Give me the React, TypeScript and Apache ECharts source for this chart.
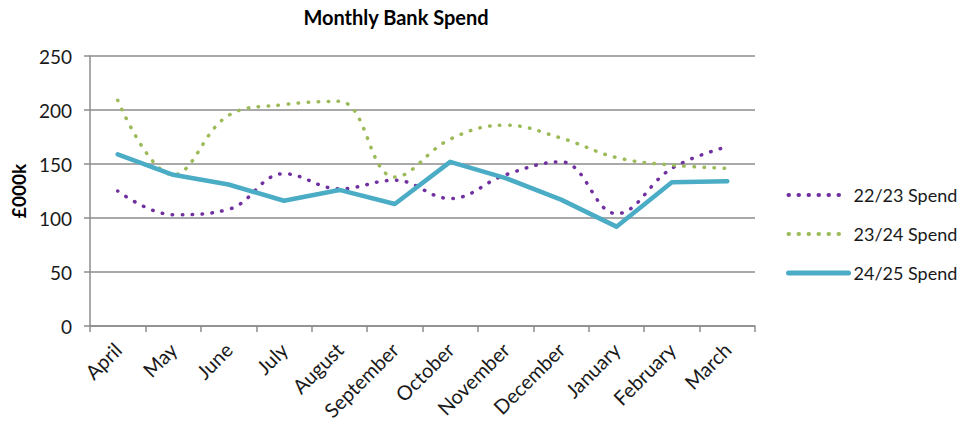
import React, { useEffect, useRef } from "react";
import * as echarts from "echarts";

const months = ["April", "May", "June", "July", "August", "September", "October", "November", "December", "January", "February", "March"];
const spend2223 = [125, 103, 108, 141, 127, 135, 118, 140, 152, 104, 146, 166];
const spend2324 = [209, 140, 195, 205, 208, 138, 173, 186, 174, 156, 149, 146];
const spend2425 = [159, 140, 131, 116, 126, 113, 152, 137, 117, 92, 133, 134];
const yTicks = [0, 50, 100, 150, 200, 250];

const FONT = "Lato, 'Open Sans', sans-serif";

export default function App() {
  const ref = useRef<HTMLDivElement>(null);
  useEffect(() => {
    if (!ref.current) return;
    const chart = echarts.init(ref.current, undefined, { renderer: "svg" });
    const dotted = (color: string, width: number) => ({
      color,
      width,
      type: [0.5, 9.5] as any,
      cap: "round" as const,
    });
    chart.setOption({
      animation: false,
      backgroundColor: "#ffffff",
      textStyle: { fontFamily: FONT },
      title: {
        text: "Monthly Bank Spend",
        left: 391,
        top: 2,
        textAlign: "center",
        textStyle: { fontFamily: FONT, fontSize: 20, fontWeight: "bold", color: "#000" },
      },
      grid: { left: 90, right: 209, top: 56, bottom: 99, containLabel: false },
      legend: {
        orient: "vertical",
        left: 781,
        top: 181,
        itemGap: 21,
        itemWidth: 60,
        itemHeight: 20,
        itemStyle: { opacity: 0 },
        textStyle: { fontFamily: FONT, fontSize: 18, color: "#1a1a1a" },
        data: [
          { name: "22/23 Spend", lineStyle: dotted("#7030A0", 4) },
          { name: "23/24 Spend", lineStyle: dotted("#9BBB59", 4) },
          { name: "24/25 Spend", lineStyle: { color: "#4BACC6", width: 5, cap: "round" } },
        ],
      },
      xAxis: {
        type: "category",
        data: months,
        boundaryGap: true,
        axisLine: { lineStyle: { color: "#8c8c8c", width: 1.5 } },
        axisTick: { show: true, length: 6, lineStyle: { color: "#8c8c8c", width: 1.5 } },
        axisLabel: {
          rotate: 45,
          interval: 0,
          fontFamily: FONT,
          fontSize: 20,
          color: "#1a1a1a",
          margin: 20,
        },
      },
      yAxis: {
        type: "value",
        min: 0,
        max: 250,
        interval: 50,
        name: "£000k",
        nameLocation: "middle",
        nameGap: 62,
        nameRotate: 90,
        nameTextStyle: { fontFamily: FONT, fontSize: 19, fontWeight: "bold", color: "#000" },
        axisLine: { show: true, lineStyle: { color: "#8c8c8c", width: 1.5 } },
        axisTick: { show: true, length: 6, lineStyle: { color: "#8c8c8c", width: 1.5 } },
        axisLabel: {
          fontFamily: FONT,
          fontSize: 19,
          color: "#1a1a1a",
          margin: 18,
          formatter: (v: number) => (yTicks.includes(v) ? String(v) : ""),
        },
        splitLine: { show: true, lineStyle: { color: "#8c8c8c", width: 1.5 } },
      },
      series: [
        {
          name: "22/23 Spend",
          type: "line",
          data: spend2223,
          smooth: 0.4,
          symbol: "none",
          color: "#7030A0",
          lineStyle: dotted("#7030A0", 3.5),
        },
        {
          name: "23/24 Spend",
          type: "line",
          data: spend2324,
          smooth: 0.4,
          symbol: "none",
          color: "#9BBB59",
          lineStyle: dotted("#9BBB59", 3.5),
        },
        {
          name: "24/25 Spend",
          type: "line",
          data: spend2425,
          smooth: false,
          symbol: "none",
          color: "#4BACC6",
          lineStyle: { color: "#4BACC6", width: 4.5, cap: "round", join: "round" },
        },
      ],
    });
    return () => chart.dispose();
  }, []);
  return (
    <div
      ref={ref}
      style={{ position: "absolute", left: 0, top: 0, width: 964, height: 425 }}
    />
  );
}
